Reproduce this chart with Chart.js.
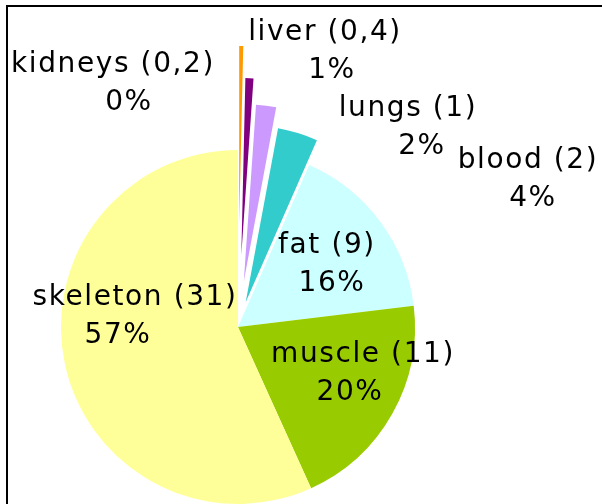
<!DOCTYPE html>
<html>
<head>
<meta charset="utf-8">
<script src="https://cdn.jsdelivr.net/npm/chart.js@4"></script>
<style>
  body { margin: 0; background: #fff; }
</style>
</head>
<body>
<canvas id="bodyChart" width="602" height="504"></canvas>
<script>
// Data
const organs = ['kidneys', 'liver', 'lungs', 'blood', 'fat', 'muscle', 'skeleton'];
const massKg = [0.2, 0.4, 1, 2, 9, 11, 31];

// Style
const sliceColors = ['#FF9900', '#800080', '#CC99FF', '#33CCCC', '#CCFFFF', '#99CC00', '#FFFF99'];
const explode = [104, 72, 46, 26, 0, 0, 0];
// label block: [dx line 1, dy baseline 1, shift of percent line] relative to pie centre
const labelLayout = [
  [-125, -255, 16],
  [87, -287, 7],
  [170, -211, 14],
  [290, -159, 5],
  [89, -74, 5],
  [125, 35, -13],
  [-103, -22, -17]
];

const total = massKg.reduce((a, b) => a + b, 0);

// move exploded slices outward (plain translation, like Excel)
const explodePlugin = {
  id: 'explode',
  afterDatasetUpdate(chart, args) {
    args.meta.data.forEach((arc, i) => {
      const mid = (arc.startAngle + arc.endAngle) / 2;
      arc.x += Math.cos(mid) * explode[i];
      arc.y += Math.sin(mid) * explode[i];
    });
  }
};

const framePlugin = {
  id: 'frame',
  beforeDraw(chart) {
    const c = chart.ctx;
    c.save();
    c.strokeStyle = '#000';
    c.lineWidth = 2;
    c.strokeRect(7, 6, 800, 800);
    c.restore();
  }
};

const labelPlugin = {
  id: 'sliceLabels',
  afterDatasetsDraw(chart) {
    const c = chart.ctx;
    const area = chart.chartArea;
    const cx = (area.left + area.right) / 2;
    const cy = (area.top + area.bottom) / 2;
    c.save();
    c.font = '28px "DejaVu Sans"';
    c.letterSpacing = '1.6px';
    c.fillStyle = '#000';
    c.textAlign = 'center';
    c.textBaseline = 'alphabetic';
    organs.forEach((name, i) => {
      const [dx, dy, shift] = labelLayout[i];
      const v = String(massKg[i]).replace('.', ',');
      const pct = Math.round(massKg[i] / total * 100) + '%';
      c.fillText(name + ' (' + v + ')', cx + dx, cy + dy);
      c.fillText(pct, cx + dx + shift, cy + dy + 38);
    });
    c.restore();
  }
};

new Chart(document.getElementById('bodyChart'), {
  type: 'pie',
  data: {
    labels: organs,
    datasets: [{
      data: massKg,
      backgroundColor: sliceColors,
      borderWidth: 0,
      radius: 177,
      clip: false
    }]
  },
  options: {
    responsive: false,
    animation: false,
    devicePixelRatio: 1,
    layout: { padding: { left: 0, right: 126, top: 150, bottom: 0 } },
    plugins: {
      legend: { display: false },
      tooltip: { enabled: false }
    }
  },
  plugins: [framePlugin, explodePlugin, labelPlugin]
});
</script>
</body>
</html>
